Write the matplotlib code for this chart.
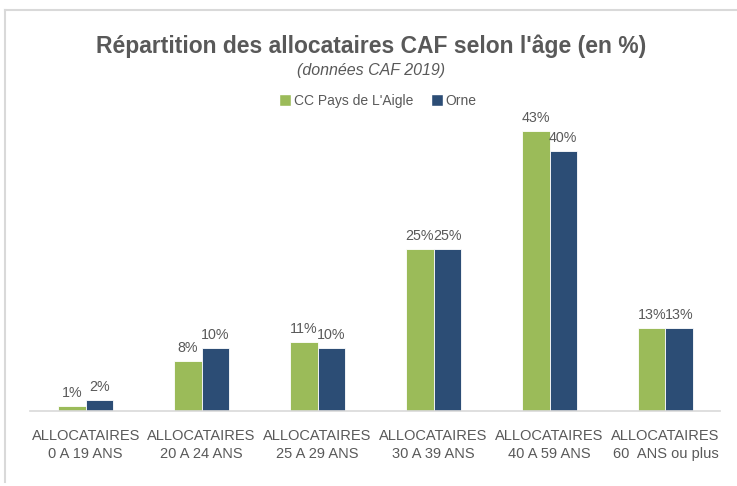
import matplotlib.pyplot as plt
import numpy as np
from matplotlib.lines import Line2D

# Données
categories = ['ALLOCATAIRES\n0 A 19 ANS', 'ALLOCATAIRES\n20 A 24 ANS', 'ALLOCATAIRES\n25 A 29 ANS',
              'ALLOCATAIRES\n30 A 39 ANS', 'ALLOCATAIRES\n40 A 59 ANS', 'ALLOCATAIRES\n60  ANS ou plus']
aigle = [0.8, 7.7, 10.6, 24.9, 43.0, 12.8]
orne = [1.7, 9.7, 9.7, 24.9, 40.0, 12.8]
aigle_labels = ['1%', '8%', '11%', '25%', '43%', '13%']
orne_labels = ['2%', '10%', '10%', '25%', '40%', '13%']
series_names = ['CC Pays de L\'Aigle', 'Orne']

green = '#9BBB59'
blue = '#2C4D75'
grey = '#595959'
fam = ['Liberation Sans Narrow', 'Liberation Sans', 'DejaVu Sans']
plt.rcParams['font.family'] = fam

fig = plt.figure(figsize=(7.37, 4.86), dpi=100)
ax = fig.add_axes([30 / 737, 1 - 411 / 486, 690 / 737, 293 / 486])

x = np.arange(len(categories))
w = 0.235
b1 = ax.bar(x - w / 2, aigle, w, color=green, edgecolor='white', linewidth=0.6)
b2 = ax.bar(x + w / 2, orne, w, color=blue, edgecolor='white', linewidth=0.6)

for bars, labels in [(b1, aigle_labels), (b2, orne_labels)]:
    for bar, lab in zip(bars, labels):
        ax.annotate(lab, (bar.get_x() + bar.get_width() / 2, bar.get_height()),
                    xytext=(0, 4), textcoords='offset points', ha='center', va='bottom',
                    fontsize=10.3, color=grey)

ax.set_xlim(-0.48, 5.47)
ax.set_ylim(0, 45)
ax.set_xticks(x)
ax.set_xticklabels(categories, fontsize=10.5, color=grey, linespacing=1.4)
ax.tick_params(axis='x', length=0, pad=13)
ax.set_yticks([])
for s in ['top', 'right', 'left']:
    ax.spines[s].set_visible(False)
ax.spines['bottom'].set_color('#D9D9D9')
ax.spines['bottom'].set_linewidth(1.2)

fig.text(0.503, 1 - 46 / 486, 'Répartition des allocataires CAF selon l\'âge (en %)',
         ha='center', va='center', fontsize=16.5, fontweight='bold', color=grey)
fig.text(0.503, 1 - 70 / 486, '(données CAF 2019)', ha='center', va='center',
         fontsize=11.5, style='italic', color=grey)

handles = [Line2D([0], [0], marker='s', color='w', markerfacecolor=green, markersize=8),
           Line2D([0], [0], marker='s', color='w', markerfacecolor=blue, markersize=8)]
fig.legend(handles, series_names, loc='center', bbox_to_anchor=(0.512, 1 - 101 / 486),
           ncol=2, frameon=False, fontsize=10, labelcolor=grey, handletextpad=0.1,
           columnspacing=1.2, handlelength=1.0)

# cadre gris clair
fig.add_artist(Line2D([5 / 737, 1], [1 - 10 / 486, 1 - 10 / 486], color='#D9D9D9', lw=1.5,
                      transform=fig.transFigure))
fig.add_artist(Line2D([5 / 737, 5 / 737], [1 - 10 / 486, 1 - 482 / 486], color='#D9D9D9', lw=1.5,
                      transform=fig.transFigure))

fig.savefig('out.png', dpi=100)
